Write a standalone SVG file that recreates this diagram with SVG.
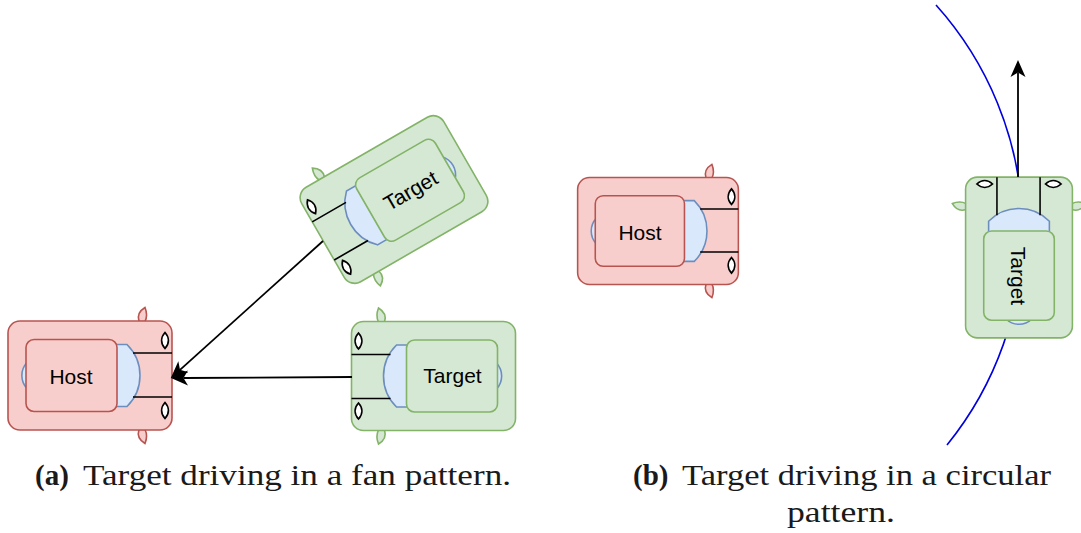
<svg xmlns="http://www.w3.org/2000/svg" xmlns:xlink="http://www.w3.org/1999/xlink" width="1081" height="533" viewBox="0 0 1081 533">
  <style>
    .red { fill: #f8cecc; stroke: #b85450; }
    .green { fill: #d5e8d4; stroke: #82b366; }
    .body, .mirror { stroke-width: 1.6; }
    .glass { fill: #dae8fc; stroke: #6c8ebf; stroke-width: 1.6; }
    .axle { fill: none; stroke: #000; stroke-width: 1.6; }
    .wheel { fill: #fff; stroke: #000; stroke-width: 1.7; }
    .label { font-family: "Liberation Sans", Arial, sans-serif; font-size: 21px; fill: #000; stroke: none; text-anchor: middle; }
    .edge { fill: none; stroke: #000; stroke-width: 1.8; }
    .path-circle { fill: none; stroke: #0000dd; stroke-width: 1.6; }
    .caption { font-family: "Liberation Serif", "Times New Roman", serif; font-size: 29px; fill: #1a1a1a; }
    .caption-tag { font-weight: bold; }
  </style>
  <defs>
    <marker id="arrow" markerUnits="userSpaceOnUse" markerWidth="18" markerHeight="18" viewBox="0 0 18 18" refX="4.5" refY="9" orient="auto">
      <path d="M17,9 L0,1.5 L4.5,9 L0,16.5 Z" fill="#000"/>
    </marker>
    <!-- car seen from above, facing +x, centred on the origin; body colours come from the enclosing group -->
    <g id="car-shape">
      <path class="mirror" d="M49,-54 C47,-60 50,-65 55,-68 C57,-63 57,-58 55,-54 Z"/>
      <path class="mirror" d="M49,54 C47,60 50,65 55,68 C57,63 57,58 55,54 Z"/>
      <rect class="body" x="-82" y="-54.5" width="164" height="109" rx="12"/>
      <path class="glass" d="M-63,-13 A19 19 0 0 0 -63,13 Z"/>
      <path class="glass" d="M26,-31 L37,-31 A43.5 43.5 0 0 1 37,31 L26,31 Z"/>
      <rect class="body" x="-64" y="-36" width="91" height="72" rx="8"/>
      <path class="axle" d="M43,-22.5 H82 M43,21.5 H82"/>
      <path class="wheel" d="M75,-43 C79.5,-38 79.5,-32 75,-27 C70.5,-32 70.5,-38 75,-43 Z"/>
      <path class="wheel" d="M75,27 C79.5,32 79.5,38 75,43 C70.5,38 70.5,32 75,27 Z"/>
    </g>
  </defs>

  <!-- circular trajectory of the target in (b) -->
  <g id="trajectory">
    <path class="path-circle" d="M936,5 A339 339 0 0 1 947,445"/>
  </g>

  <!-- (a) fan pattern -->
  <g id="host-a" class="red">
    <use xlink:href="#car-shape" transform="translate(90,375.5)"/>
    <text class="label" x="71" y="383.5">Host</text>
  </g>
  <g id="target-a-straight" class="green">
    <use xlink:href="#car-shape" transform="translate(433.5,376) rotate(180)"/>
    <text class="label" x="452.5" y="382.5">Target</text>
  </g>
  <g id="target-a-angled" class="green">
    <use xlink:href="#car-shape" transform="translate(394,199.5) rotate(150)"/>
    <text class="label" transform="translate(410.5,190.5) rotate(-30)" x="0" y="7.5">Target</text>
  </g>

  <!-- (b) circular pattern -->
  <g id="host-b" class="red">
    <use xlink:href="#car-shape" transform="translate(658,231) scale(0.98)"/>
    <text class="label" x="640" y="240">Host</text>
  </g>
  <g id="target-b" class="green">
    <use xlink:href="#car-shape" transform="translate(1019,257.5) rotate(-90) scale(0.98)"/>
    <text class="label" transform="translate(1018,276) rotate(90)" x="0" y="7.5">Target</text>
  </g>

  <g id="connectors">
    <path class="edge" d="M352,377 L183.5,378" marker-end="url(#arrow)"/>
    <path class="edge" d="M323,241 L180,369.8" marker-end="url(#arrow)"/>
    <path class="edge" d="M1018,177 L1018,72.5" marker-end="url(#arrow)"/>
  </g>

  <g id="captions">
    <text class="caption caption-tag" x="35" y="485">(a)</text>
    <text class="caption" x="83" y="485" textLength="428" lengthAdjust="spacingAndGlyphs">Target driving in a fan pattern.</text>
    <text class="caption caption-tag" x="633" y="485">(b)</text>
    <text class="caption" x="682" y="485" textLength="369" lengthAdjust="spacingAndGlyphs">Target driving in a circular</text>
    <text class="caption" x="787" y="522" textLength="108" lengthAdjust="spacingAndGlyphs">pattern.</text>
  </g>
</svg>
